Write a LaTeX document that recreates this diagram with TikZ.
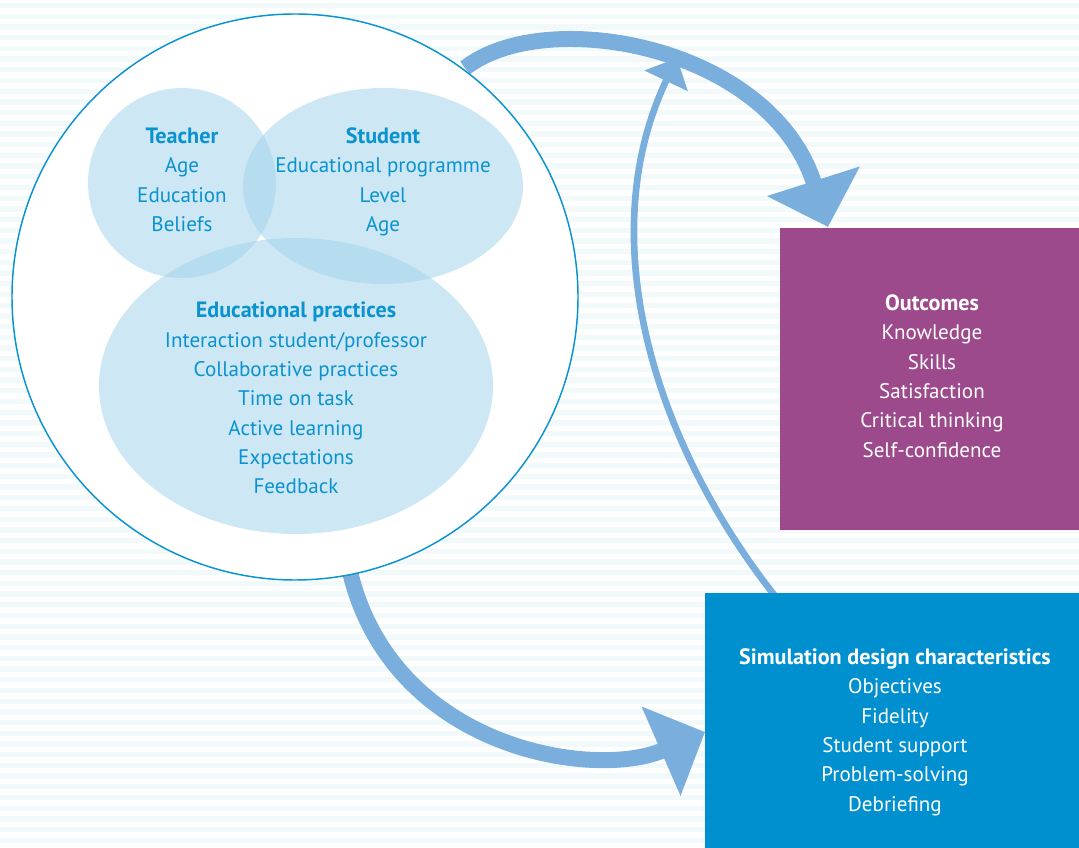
\documentclass[tikz,border=0pt]{standalone}
\usepackage{fontspec}
\setmainfont{PT Sans}
\usetikzlibrary{arrows.meta}

\definecolor{stripe}{HTML}{F2F9FB}
\definecolor{ctxblue}{HTML}{0A93CF}
\definecolor{venn}{HTML}{A4D5EC}
\definecolor{flow}{HTML}{7AAFDD}
\definecolor{outpurple}{HTML}{9C4A8C}
\definecolor{simblue}{HTML}{0090D0}

\newcommand{\headline}[1]{{\fontsize{16.6}{22}\selectfont\bfseries #1}}

\tikzset{
  vennset/.style={fill=venn,fill opacity=0.55,draw=none},
  venntext/.style={text=ctxblue,align=center,font=\fontsize{15.8}{22}\selectfont},
  boxtext/.style={text=white,align=center,font=\fontsize{15.8}{22}\selectfont},
  bigflow/.style={draw=flow,line width=12pt,-{Triangle[length=36pt,width=71pt]}},
  thinflow/.style={draw=flow,line width=5pt,-{Triangle[length=19pt,width=35pt]}}
}

\begin{document}
\begin{tikzpicture}[x=0.75pt,y=-0.75pt]
  \useasboundingbox (0,0) rectangle (1079,848);

  % background stripes
  \foreach \y in {3,13.7,...,848}
    \fill[stripe] (0,\y) rectangle (1079,\y+5.3);

  \coordinate (ctxtop) at (465,68);
  \coordinate (ctxbot) at (350,572);
  \coordinate (outtip) at (828,227);
  \coordinate (simtip) at (705,732);
  \coordinate (simtop) at (775,596);
  \coordinate (looptip) at (677,58);

  % flows from the context circle
  \draw[bigflow] (ctxtop) .. controls (545,5) and (770,45) .. (outtip);
  \draw[bigflow] (ctxbot) .. controls (393,750) and (595,780) .. (simtip);

  % context circle
  \filldraw[fill=white,draw=ctxblue,line width=1.1pt] (295,297) circle (283);

  \fill[vennset] (182,183) ellipse (94 and 95);
  \fill[vennset] (383,186) ellipse (140 and 98);
  \fill[vennset] (296,386) ellipse (197 and 148);

  \node[venntext] (teacher) at (182,180)
    {\headline{Teacher}\\Age\\Education\\Beliefs};
  \node[venntext] (student) at (383,182)
    {\headline{Student}\\Educational programme\\Level\\Age};
  \node[venntext] (practices) at (296,398)
    {\headline{Educational practices}\\Interaction student/professor\\Collaborative practices\\Time on task\\Active learning\\Expectations\\Feedback};

  % loop back
  \draw[thinflow] (simtop) .. controls (652,440) and (592,236) .. (looptip);

  % boxes
  \fill[outpurple] (780,228) rectangle (1079,530);
  \node[boxtext] (outcomes) at (932,376)
    {\headline{Outcomes}\\Knowledge\\Skills\\Satisfaction\\Critical thinking\\Self-confidence};
  \fill[simblue] (705,593) rectangle (1079,848);
  \node[boxtext] (simdesign) at (895,732)
    {\headline{Simulation design characteristics}\\Objectives\\Fidelity\\Student support\\Problem-solving\\Debriefing};
\end{tikzpicture}
\end{document}
